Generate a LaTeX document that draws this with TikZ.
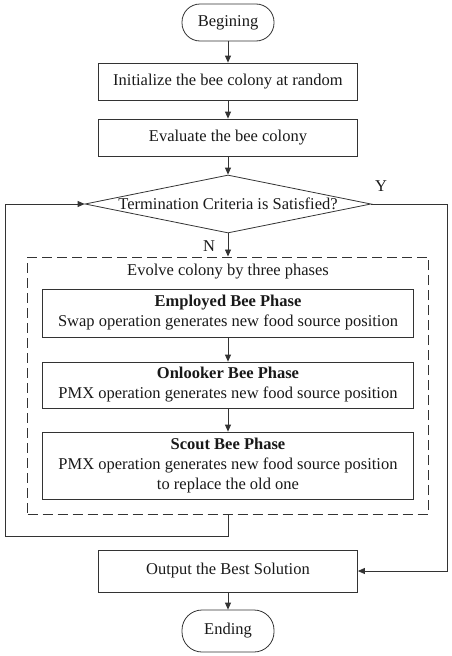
\documentclass[tikz,border=0pt]{standalone}
\usepackage{fontspec}
\setmainfont{Liberation Serif}
\usetikzlibrary{shapes.geometric,arrows.meta}
\begin{document}
\begin{tikzpicture}[x=1pt,y=-1pt,
  every node/.style={font=\fontsize{16.5}{20}\selectfont, text=black!90},
  line/.style={draw=black!80, line width=0.8pt},
  arr/.style={line, -{Triangle[length=7pt,width=6pt]}},
  proc/.style={line, rectangle, inner sep=0pt, align=center},
  term/.style={line, rectangle, rounded corners=18pt, minimum width=92pt, minimum height=37pt, inner sep=0pt},
]
\useasboundingbox (0,0) rectangle (452,656);

\node[term] (beg) at (228,22.5) {Begining};
\node[proc, minimum width=259pt, minimum height=37pt] (init) at (228,81.5) {Initialize the bee colony at random};
\node[proc, minimum width=259pt, minimum height=37pt] (eval) at (228,137.5) {Evaluate the bee colony};
\node[line, diamond, aspect=4.93, minimum width=286pt, minimum height=58pt, inner sep=0pt] (dec) at (228,204) {\makebox[0pt]{Termination Criteria is Satisfied?}};
\node (ylab) at (381,186) {Y};
\node (nlab) at (209,246) {N};

\node[draw=black!80, line width=1pt, dash pattern=on 10pt off 5pt, rectangle, minimum width=401pt, minimum height=257pt, inner sep=0pt] (evolve) at (228,385.5) {};
\node (evtitle) at (228,272) {Evolve colony by three phases};

\node[proc, minimum width=371pt, minimum height=48pt] (emp) at (228,313) {\textbf{Employed Bee Phase}\\Swap operation generates new food source position};
\node[proc, minimum width=371pt, minimum height=46pt] (onl) at (228,385) {\textbf{Onlooker Bee Phase}\\PMX operation generates new food source position};
\node[proc, minimum width=371pt, minimum height=67pt] (sco) at (228,465.5) {\textbf{Scout Bee Phase}\\PMX operation generates new food source position\\to replace the old one};

\node[proc, minimum width=259pt, minimum height=42pt] (out) at (228,571) {Output the Best Solution};
\node[term, minimum height=42pt, rounded corners=20pt] (end) at (228,631) {Ending};

\coordinate (lp1) at (228,536);
\coordinate (lp2) at (5,536);
\coordinate (lp3) at (5,204);
\coordinate (rp1) at (447,204);
\coordinate (rp2) at (447,571);

\draw[arr] (beg) -- (init);
\draw[arr] (init) -- (eval);
\draw[arr] (eval) -- (dec);
\draw[arr] (dec.south) -- (evolve.north);
\draw[arr] (emp) -- (onl);
\draw[arr] (onl) -- (sco);
\draw[arr] (evolve.south) -- (lp1) -- (lp2) -- (lp3) -- (dec.west);
\draw[arr] (dec.east) -- (rp1) -- (rp2) -- (out.east);
\draw[arr] (out) -- (end);
\end{tikzpicture}
\end{document}
